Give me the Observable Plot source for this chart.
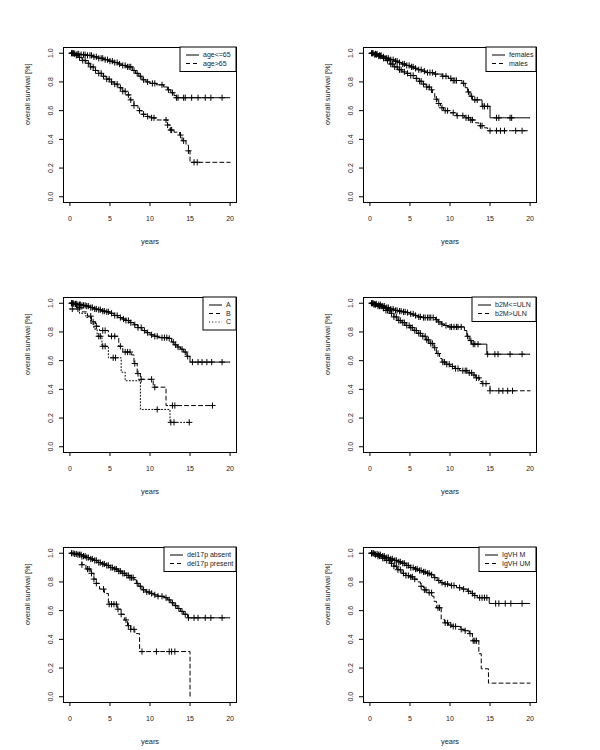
<!DOCTYPE html>
<html>
<head>
<meta charset="utf-8">
<script src="https://cdn.jsdelivr.net/npm/d3@7"></script>
<script src="https://cdn.jsdelivr.net/npm/@observablehq/plot@0.6"></script>
<style>
  html, body { margin: 0; padding: 0; background: #fff; }
  #grid { display: grid; grid-template-columns: 300px 300px; grid-template-rows: 250px 250px 250px; width: 600px; }
  #grid svg { display: block; }
</style>
</head>
<body>
<div id="grid"></div>
<script>
// ---------- DATA ----------
const xTicks = [0, 5, 10, 15, 20];
const yTicks = [0, 0.2, 0.4, 0.6, 0.8, 1.0];
const xLabel = "years";
const yLabel = "overall survival [%]";

// Panel 1: age
const p1Labels = ["age<=65", "age>65"];
const p1a_t = [0,0.5,1.2,2.0,2.8,3.5,4.2,4.8,5.5,6.0,6.5,7.0,7.8,8.2,8.6,9.0,9.5,10.0,10.8,11.7,12.2,12.6,13.0,13.3];
const p1a_s = [1,0.995,0.99,0.985,0.975,0.965,0.955,0.945,0.935,0.925,0.915,0.905,0.88,0.86,0.84,0.815,0.80,0.79,0.78,0.765,0.745,0.725,0.705,0.69];
const p1a_c = [0.2,0.4,0.6,0.9,1.1,1.4,1.7,1.9,2.2,2.5,2.7,3.0,3.3,3.6,3.9,4.1,4.4,4.7,5.0,5.3,5.6,5.9,6.2,6.6,6.9,7.2,7.4,7.6,8.0,8.4,8.8,9.2,9.7,10.3,10.6,11.5,12.3,12.8,13.3,13.5,14.2,14.4,15.2,16.0,16.9,17.6,19.0];
const p1b_t = [0,0.6,1.0,1.5,2.0,2.5,3.0,3.5,4.0,4.5,5.0,5.5,6.0,6.5,7.0,7.5,8.0,8.5,9.0,9.5,10.0,10.7,12.2,12.5,13.0,13.7,14.0,14.5,14.8,15.0];
const p1b_s = [1,0.985,0.97,0.95,0.93,0.905,0.88,0.86,0.84,0.82,0.80,0.785,0.76,0.735,0.71,0.675,0.635,0.60,0.575,0.56,0.55,0.535,0.50,0.465,0.45,0.43,0.39,0.36,0.32,0.24];
const p1b_c = [0.3,0.5,0.8,1.2,1.6,1.9,2.3,2.6,2.9,3.2,3.6,3.9,4.2,4.6,4.9,5.2,5.6,5.9,6.3,6.6,6.9,7.3,7.6,8.0,8.7,9.2,9.7,10.2,10.5,12.0,12.2,12.6,12.7,13.8,14.2,14.8,15.5,15.9];

// Panel 2: sex
const p2Labels = ["females", "males"];
const p2a_t = [0,0.5,1.0,1.5,2.0,2.5,3.0,3.5,4.0,4.5,5.0,5.5,6.0,6.5,7.0,8.0,9.0,9.8,10.2,11.5,11.9,12.2,12.5,12.8,14.0,15.0];
const p2a_s = [1,0.995,0.985,0.975,0.965,0.955,0.945,0.935,0.925,0.915,0.905,0.895,0.885,0.875,0.865,0.855,0.84,0.825,0.81,0.79,0.76,0.73,0.70,0.675,0.63,0.55];
const p2a_c = [0.2,0.4,0.7,0.9,1.2,1.4,1.7,2.1,2.3,2.6,2.9,3.2,3.4,3.7,4.1,4.3,4.6,4.9,5.2,5.4,5.7,6.1,6.4,6.8,7.2,7.5,7.8,8.2,9.1,9.5,10.1,10.4,10.6,10.8,11.7,12.3,12.7,13.1,13.4,14.1,14.3,14.7,15.8,16.1,17.5,17.7];
const p2b_t = [0,0.5,1.0,1.5,2.0,2.5,3.0,3.5,4.0,4.5,5.0,5.5,6.0,6.5,7.0,7.5,7.8,8.1,8.5,8.8,9.2,10.0,10.8,11.8,12.6,13.2,13.6,14.3,14.7];
const p2b_s = [1,0.99,0.98,0.965,0.95,0.925,0.905,0.885,0.87,0.86,0.845,0.825,0.805,0.785,0.765,0.745,0.72,0.68,0.65,0.62,0.60,0.585,0.565,0.55,0.535,0.515,0.495,0.48,0.46];
const p2b_c = [0.3,0.6,0.8,1.1,1.3,1.7,1.9,2.2,2.6,2.8,3.1,3.4,3.7,3.9,4.3,4.7,5.1,5.4,5.8,6.2,6.4,6.7,7.1,7.4,7.7,8.3,8.6,9.0,9.4,9.7,10.4,10.9,11.6,12.0,12.3,12.6,12.8,13.8,14.0,15.0,15.8,16.3,16.8,18.2,19.0];

// Panel 3: A / B / C
const p3Labels = ["A", "B", "C"];
const p3a_t = [0,0.5,1.0,1.5,2.0,2.5,3.0,3.5,4.0,4.5,5.0,5.5,6.0,6.5,7.0,7.5,8.0,8.5,9.0,9.5,10.0,10.5,11.0,12.3,12.7,13.0,13.4,13.8,14.2,14.6,15.0];
const p3a_s = [1,0.995,0.99,0.985,0.98,0.97,0.96,0.955,0.945,0.94,0.93,0.915,0.90,0.89,0.88,0.865,0.85,0.83,0.81,0.795,0.78,0.77,0.76,0.755,0.73,0.71,0.695,0.68,0.66,0.63,0.59];
const p3a_c = [0.2,0.3,0.5,0.7,0.8,1.0,1.2,1.3,1.5,1.7,1.9,2.1,2.3,2.6,2.8,3.1,3.3,3.6,3.8,4.1,4.3,4.6,4.8,5.2,5.6,5.9,6.3,6.7,7.0,7.3,7.6,8.1,8.5,8.9,9.3,9.7,10.2,10.6,10.9,11.5,11.8,12.1,12.4,12.9,13.2,13.5,14.0,14.4,14.7,15.3,16.0,16.5,17.1,17.7,19.0];
const p3b_t = [0,0.8,1.5,2.2,2.7,3.2,3.7,4.8,6.1,6.6,7.7,8.0,8.4,8.8,10.4,12.0];
const p3b_s = [1,0.97,0.94,0.91,0.87,0.84,0.81,0.77,0.70,0.66,0.64,0.58,0.51,0.47,0.415,0.287];
const p3b_c = [0.4,1.2,2.6,2.9,3.3,4.1,4.4,5.2,5.6,6.3,6.9,7.2,7.5,8.1,8.5,8.9,10.2,10.6,12.8,13.1,17.8];
const p3c_t = [0,1.2,2.0,2.6,3.0,3.4,4.0,4.8,6.4,6.9,8.8,12.5];
const p3c_s = [0.96,0.93,0.90,0.86,0.82,0.77,0.70,0.62,0.52,0.46,0.26,0.17];
const p3c_c = [0.3,1.0,3.6,3.8,4.1,4.4,5.4,5.7,10.9,12.6,13.0,14.9];

// Panel 4: b2M
const p4Labels = ["b2M<=ULN", "b2M>ULN"];
const p4a_t = [0,0.5,1.0,1.5,2.0,2.5,3.0,3.5,4.0,4.5,5.0,5.5,6.0,6.5,8.2,8.5,8.9,9.3,9.7,11.8,12.1,12.4,12.7,14.6];
const p4a_s = [1,0.995,0.99,0.98,0.97,0.96,0.95,0.945,0.94,0.935,0.925,0.915,0.905,0.90,0.885,0.87,0.855,0.845,0.835,0.81,0.77,0.74,0.715,0.645];
const p4a_c = [0.2,0.4,0.6,0.8,1.1,1.3,1.6,1.8,2.1,2.3,2.6,2.9,3.2,3.4,3.7,3.9,4.2,4.4,4.7,5.1,5.4,5.7,6.1,6.3,6.7,6.9,7.2,7.4,7.6,7.9,8.3,8.6,9.0,9.5,10.0,10.2,10.5,10.8,11.0,11.4,12.2,12.6,12.9,13.1,13.5,14.7,15.6,16.0,17.5,19.0];
const p4b_t = [0,0.5,1.0,1.5,2.0,2.5,3.0,3.5,4.0,4.5,5.0,5.5,6.0,6.5,7.0,7.5,8.0,8.3,8.7,9.0,9.5,10.0,10.6,11.2,12.3,12.8,13.2,13.7,14.0,15.0];
const p4b_s = [1,0.99,0.98,0.965,0.95,0.93,0.905,0.88,0.865,0.845,0.83,0.81,0.79,0.77,0.745,0.72,0.69,0.65,0.615,0.59,0.575,0.56,0.545,0.53,0.515,0.50,0.48,0.455,0.44,0.39];
const p4b_c = [0.3,0.5,0.7,1.0,1.2,1.4,1.7,2.0,2.2,2.4,2.7,3.0,3.3,3.6,3.8,4.1,4.3,4.6,4.9,5.1,5.3,5.6,5.8,6.1,6.3,6.6,6.9,7.1,7.3,7.6,7.8,8.1,8.5,9.1,9.3,9.6,9.9,10.3,10.7,11.0,11.6,11.9,12.1,12.4,12.7,13.0,13.3,13.6,14.1,14.5,15.0,16.1,16.6,17.2,17.8];

// Panel 5: del17p
const p5Labels = ["del17p absent", "del17p present"];
const p5a_t = [0,0.5,1.0,1.5,2.0,2.5,3.0,3.5,4.0,4.5,5.0,5.5,6.0,6.5,7.0,7.5,8.0,8.3,8.6,9.0,9.5,10.0,10.5,11.0,11.8,12.2,12.6,13.0,13.4,13.8,14.2,14.7];
const p5a_s = [1,0.995,0.99,0.98,0.97,0.96,0.95,0.935,0.925,0.915,0.90,0.89,0.875,0.86,0.845,0.83,0.815,0.79,0.77,0.745,0.73,0.72,0.71,0.70,0.69,0.675,0.655,0.635,0.615,0.595,0.575,0.55];
const p5a_c = [0.2,0.4,0.6,0.8,1.0,1.2,1.4,1.7,1.9,2.1,2.3,2.6,2.8,3.1,3.3,3.6,3.8,4.1,4.3,4.6,4.8,5.1,5.3,5.6,5.8,6.1,6.3,6.6,6.8,7.1,7.3,7.5,7.7,7.9,8.4,8.8,9.2,9.6,9.9,10.2,10.6,11.0,11.5,12.0,12.4,12.8,13.2,13.6,14.0,14.4,14.8,15.5,16.0,16.9,17.6,19.0];
const p5b_t = [0,1.5,2.0,2.6,3.0,3.3,3.7,4.3,4.8,5.9,6.4,6.8,7.2,7.6,8.1,8.7,15.0];
const p5b_s = [1,0.92,0.89,0.86,0.82,0.79,0.75,0.72,0.645,0.61,0.575,0.535,0.495,0.47,0.44,0.315,0.0];
const p5b_c = [1.5,2.2,2.4,2.7,3.0,3.3,4.2,4.9,5.2,5.5,5.8,6.0,6.4,7.0,7.3,7.6,8.0,9.0,10.8,12.4,12.7,13.1];

// Panel 6: IgVH
const p6Labels = ["IgVH M", "IgVH UM"];
const p6a_t = [0,0.5,1.0,1.5,2.0,2.5,3.0,3.5,4.0,4.5,5.0,5.5,6.0,6.5,7.0,7.5,8.0,8.4,8.8,9.2,10.0,10.8,11.5,12.2,12.6,13.0,13.4,14.9];
const p6a_s = [1,0.995,0.99,0.98,0.97,0.96,0.95,0.94,0.93,0.915,0.90,0.89,0.88,0.87,0.86,0.85,0.83,0.81,0.795,0.785,0.775,0.76,0.75,0.735,0.72,0.705,0.69,0.65];
const p6a_c = [0.2,0.4,0.6,0.9,1.1,1.3,1.6,1.8,2.1,2.3,2.6,2.8,3.1,3.3,3.6,3.8,4.1,4.3,4.6,4.8,5.1,5.4,5.7,5.9,6.2,6.4,6.7,6.9,7.2,7.4,7.7,8.1,8.6,9.0,9.4,9.7,10.2,10.5,11.2,11.7,12.3,12.8,13.1,13.7,14.0,14.3,14.6,15.7,16.1,16.9,17.6,19.0];
const p6b_t = [0,0.5,1.0,1.5,2.0,2.5,3.0,3.5,4.0,4.5,5.0,5.5,5.9,6.3,6.7,7.1,7.8,8.0,8.3,8.9,9.3,9.8,10.2,11.3,11.8,12.4,12.8,13.6,13.9,14.8];
const p6b_s = [1,0.99,0.98,0.965,0.95,0.93,0.91,0.885,0.86,0.845,0.835,0.82,0.80,0.77,0.745,0.725,0.70,0.665,0.62,0.54,0.515,0.50,0.49,0.47,0.46,0.44,0.39,0.30,0.195,0.095];
const p6b_c = [0.2,0.4,0.7,1.0,1.2,1.6,1.8,2.1,2.4,2.7,3.0,3.3,3.5,3.8,4.2,4.5,4.8,5.1,5.3,5.6,6.4,6.8,7.0,7.4,7.7,8.5,8.7,9.4,9.7,10.1,10.4,10.7,11.4,11.9,12.5,12.9,13.1,13.3];

// ---------- STYLE / LAYOUT ----------
const lineStyles = [null, "4,3", "1,2.2"];
const FONT = "'Liberation Sans', Arial, Helvetica, sans-serif";
const W = 300, H = 250;
const M = {left: 63, right: 64, top: 47, bottom: 48};
const legendWidths = [56, 50, 33, 64, 72, 57];

const panels = [
  {labels: p1Labels, curves: [[p1a_t, p1a_s, p1a_c, 20], [p1b_t, p1b_s, p1b_c, 20]]},
  {labels: p2Labels, curves: [[p2a_t, p2a_s, p2a_c, 20], [p2b_t, p2b_s, p2b_c, 20]]},
  {labels: p3Labels, curves: [[p3a_t, p3a_s, p3a_c, 20], [p3b_t, p3b_s, p3b_c, 17.8], [p3c_t, p3c_s, p3c_c, 14.9]]},
  {labels: p4Labels, curves: [[p4a_t, p4a_s, p4a_c, 20], [p4b_t, p4b_s, p4b_c, 20]]},
  {labels: p5Labels, curves: [[p5a_t, p5a_s, p5a_c, 20], [p5b_t, p5b_s, p5b_c, 15.0]]},
  {labels: p6Labels, curves: [[p6a_t, p6a_s, p6a_c, 20], [p6b_t, p6b_s, p6b_c, 20]]}
];

function survAt(ts, ss, t) {
  let v = ss[0];
  for (let i = 0; i < ts.length; i++) if (ts[i] <= t) v = ss[i];
  return v;
}

const plusSymbol = {
  draw(ctx, size) {
    const r = Math.sqrt(size / Math.PI);
    ctx.moveTo(-r, 0); ctx.lineTo(r, 0);
    ctx.moveTo(0, -r); ctx.lineTo(0, r);
  }
};

const grid = document.getElementById("grid");

panels.forEach((p, pi) => {
  const marks = [];
  p.curves.forEach(([ts, ss, cs, end], ci) => {
    const pts = ts.map((t, i) => ({t, s: ss[i]}));
    pts.push({t: end, s: ss[ss.length - 1]});
    marks.push(Plot.line(pts, {
      x: "t", y: "s", curve: "step-after",
      stroke: "#000", strokeWidth: 1,
      strokeDasharray: lineStyles[ci] || undefined
    }));
    const cens = cs.map(t => ({t, s: survAt(ts, ss, t)}));
    marks.push(Plot.dot(cens, {
      x: "t", y: "s", symbol: plusSymbol, r: 3.1,
      stroke: "#000", strokeWidth: 1, fill: "none"
    }));
  });

  marks.push(Plot.frame({stroke: "#000", strokeWidth: 1}));
  marks.push(Plot.axisX({ticks: xTicks, tickSize: 4, tickPadding: 10, label: null, fontSize: 7, stroke: "#000"}));
  marks.push(Plot.axisY({ticks: yTicks, tickSize: 4, text: null, label: null, stroke: "#000"}));
  marks.push(Plot.text(yTicks, {
    y: d => d, text: d => d.toFixed(1), frameAnchor: "left", dx: -11,
    rotate: -90, textAnchor: "middle", lineAnchor: "bottom", fontSize: 7, fill: "#222"
  }));
  marks.push(Plot.text([xLabel], {frameAnchor: "bottom", dy: 41, fontSize: 7.4, fill: "#222"}));
  marks.push(Plot.text([yLabel], {frameAnchor: "left", dx: -36, rotate: -90, fontSize: 7.4, fill: "#222"}));

  const svg = Plot.plot({
    width: W, height: H,
    marginLeft: M.left, marginRight: M.right, marginTop: M.top, marginBottom: M.bottom,
    style: {fontFamily: FONT, background: "#fff", color: "#222"},
    x: {domain: [-0.8, 20.8]},
    y: {domain: [-0.04, 1.04]},
    marks
  });

  // legend (top-right, inside frame)
  const n = p.labels.length;
  const lw = legendWidths[pi];
  const right = W - M.right;
  const lx = right - lw, ly = M.top;
  const lh = 8.5 * n + 7.5;
  const g = d3.select(svg).append("g")
    .attr("font-family", FONT).attr("font-size", 7).attr("text-anchor", "start");
  g.append("rect").attr("x", lx).attr("y", ly).attr("width", lw).attr("height", lh)
    .attr("fill", "#fff").attr("stroke", "#000").attr("stroke-width", 1);
  p.labels.forEach((lab, i) => {
    const yy = ly + 8 + 8.5 * i;
    g.append("line").attr("x1", lx + 6).attr("x2", lx + 19).attr("y1", yy).attr("y2", yy)
      .attr("stroke", "#000").attr("stroke-width", 1)
      .attr("stroke-dasharray", lineStyles[i] || null);
    g.append("text").attr("x", lx + 23).attr("y", yy).attr("dy", "0.35em")
      .attr("text-anchor", "start").attr("fill", "#222").text(lab);
  });

  grid.appendChild(svg);
});
</script>
</body>
</html>
